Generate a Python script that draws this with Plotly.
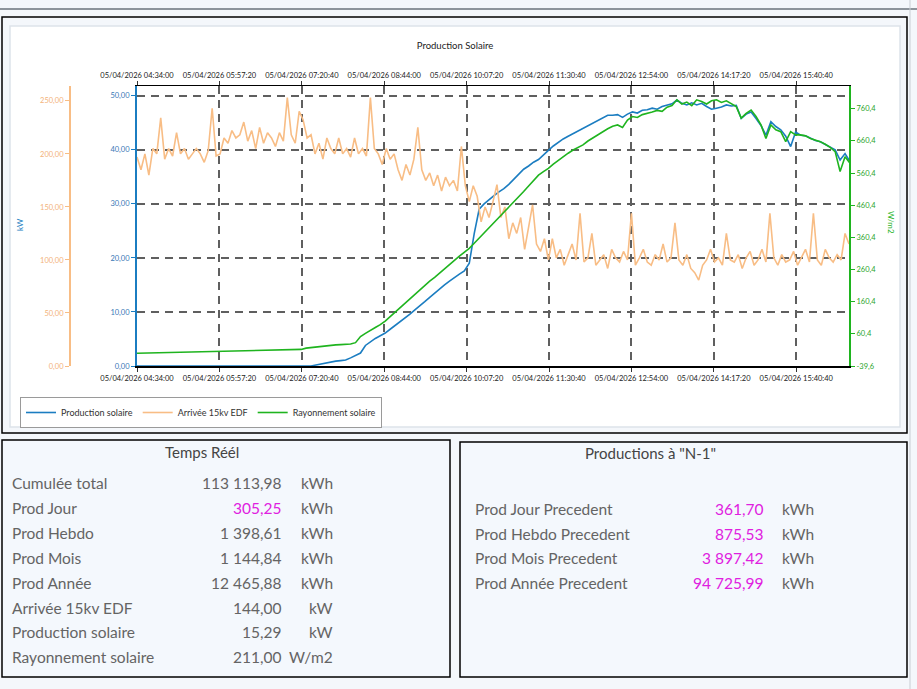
import pandas as pd
import plotly.graph_objects as go

DAY = "2026-04-05"

# Arrivée 15kv EDF (kW), one reading every 4 minutes from 04:34
edf_kw = [
    197, 185, 200, 180, 205, 200, 234, 195, 205, 198, 220, 200, 205, 195, 200, 205, 200, 192, 203, 243, 198, 200,
    215, 210, 222, 215, 218, 230, 212, 222, 205, 225, 210, 220, 215, 207, 220, 212, 253, 218, 210, 240,
    232, 215, 218, 200, 210, 195, 215, 205, 200, 215, 200, 205, 197, 215, 200, 205, 198, 253, 205, 200, 190,
    205, 195, 200, 185, 175, 190, 180, 195, 225, 185, 175, 182, 170, 180, 165, 178, 170, 175, 165, 207, 170,
    155, 170, 160, 136, 150, 140, 155, 171, 140, 150, 120, 135, 125, 140, 110, 130, 152, 115, 108, 120, 100,
    120, 102, 110, 95, 105, 115, 100, 144, 98, 102, 125, 95, 100, 105, 92, 110, 102, 98, 108, 100,
    144, 95, 102, 110, 98, 95, 105, 100, 115, 98, 102, 135, 100, 95, 105, 92, 88, 81, 95, 100,
    110, 98, 102, 95, 125, 100, 98, 105, 92, 102, 108, 95, 100, 110, 98, 144, 102, 95, 105, 98,
    100, 108, 95, 102, 110, 98, 144, 100, 95, 110, 102, 98, 105, 100, 125, 115,
]

# Production solaire (kW) and Rayonnement solaire (W/m2):
# one reading at 04:34, nothing until 07:20, then every 5 minutes
prod_kw = [0] + [
    0, 0, 0,
    0.2, 0.4, 0.6, 0.8, 0.9, 1.0, 1.1, 1.5, 2.0, 2.4,
    3.8, 4.5, 5.1, 5.6, 6.1, 6.8, 7.5, 8.1, 8.9, 9.6,
    10.4, 11.1, 11.9, 12.7, 13.5, 14.3, 15.0, 15.7, 16.4, 17.0,
    17.6, 19.0, 24.5, 29.0, 30.0, 30.8, 31.5, 32.2, 32.8, 33.6,
    34.6, 35.5, 36.4, 37.0, 37.7, 38.2, 39.1, 39.9, 40.7, 41.4,
    42.0, 42.5, 43.0, 43.4, 43.9, 44.4, 44.9, 45.4, 45.9, 46.4,
    46.4, 46.5, 46.0, 46.6, 47.0, 46.8, 47.3, 47.4, 47.7, 47.5,
    48.0, 48.2, 48.5, 49.2, 48.6, 48.3, 48.7, 48.3, 48.6, 48.0,
    47.5, 47.7, 47.9, 48.3, 48.1, 48.2, 45.8, 46.6, 47.0, 45.8,
    44.5, 42.7, 45.2, 44.3, 43.7, 42.5, 40.6, 43.3, 42.7, 42.6,
    42.1, 41.7, 41.5, 41.0, 40.5, 40.0, 38.1, 39.3, 37.8,
]
irradiance = [0] + [
    12, 16, 18, 20, 22, 24, 25, 26, 27, 28,
    29, 33, 52, 62, 70, 80, 89, 100, 114, 128,
    142, 156, 170, 184, 197, 210, 224, 236, 250, 262,
    276, 289, 302, 314, 326, 342, 358, 374, 390, 406,
    421, 436, 453, 470, 487, 503, 520, 537, 554, 565,
    575, 588, 600, 612, 622, 632, 640, 648, 660, 670,
    680, 690, 698, 706, 710, 702, 725, 736, 733, 742,
    745, 750, 755, 752, 765, 770, 788, 775, 781, 770,
    788, 783, 775, 785, 788, 780, 785, 777, 767, 731,
    746, 756, 736, 710, 668, 710, 695, 689, 658, 689,
    679, 679, 676, 668, 663, 658, 650, 640, 627, 565,
    611, 591,
]

x_ticks = ["04:34:00", "05:57:20", "07:20:40", "08:44:00", "10:07:20",
           "11:30:40", "12:54:00", "14:17:20", "15:40:40"]
kw_ticks = [0, 10, 20, 30, 40, 50]
edf_ticks = [0, 50, 100, 150, 200, 250]
wm2_ticks = [-39.6, 60.4, 160.4, 260.4, 360.4, 460.4, 560.4, 660.4, 760.4]

realtime_labels = ["Cumulée total", "Prod Jour", "Prod Hebdo", "Prod Mois", "Prod Année",
                   "Arrivée 15kv EDF", "Production solaire", "Rayonnement solaire"]
realtime_values = [113113.98, 305.25, 1398.61, 1144.84, 12465.88, 144.00, 15.29, 211.00]
realtime_units = ["kWh", "kWh", "kWh", "kWh", "kWh", "kW", "kW", "W/m2"]

previous_labels = ["Prod Jour Precedent", "Prod Hebdo Precedent", "Prod Mois Precedent", "Prod Année Precedent"]
previous_values = [361.70, 875.53, 3897.42, 94725.99]
previous_units = ["kWh", "kWh", "kWh", "kWh"]

BLUE = "#1b7dc1"
ORANGE = "#f8bd85"
GREEN = "#1fb41f"
MAGENTA = "#e020e0"
TEXT = "#646464"
W, H = 917, 689


def fr(v, dec=2):
    # french style numbers: 1 398,61
    return f"{v:,.{dec}f}".replace(",", " ").replace(".", ",")


def px(x):
    return x / W


def py(y):
    return 1 - y / H


edf_times = pd.date_range(f"{DAY} 04:34", periods=len(edf_kw), freq="4min")
pv_times = [pd.Timestamp(f"{DAY} 04:34")] + list(
    pd.date_range(f"{DAY} 07:20", periods=len(prod_kw) - 1, freq="5min"))
tick_vals = [f"{DAY} {t}" for t in x_ticks]
x_range = [f"{DAY} 04:34:00", f"{DAY} 16:34:00"]

fig = go.Figure()
fig.add_trace(go.Scatter(x=edf_times, y=edf_kw, name="Arrivée 15kv EDF", yaxis="y2",
                         mode="lines", line=dict(color=ORANGE, width=1.6), legendrank=2))
fig.add_trace(go.Scatter(x=pv_times, y=prod_kw, name="Production solaire",
                         mode="lines", line=dict(color=BLUE, width=1.6), legendrank=1))
fig.add_trace(go.Scatter(x=pv_times, y=irradiance, name="Rayonnement solaire", yaxis="y3",
                         mode="lines", line=dict(color=GREEN, width=1.6), legendrank=3))
# empty trace so the top time axis gets drawn
fig.add_trace(go.Scatter(x=[x_range[0]], y=[None], xaxis="x2", showlegend=False, hoverinfo="skip"))

tick_font = dict(family="Lato", size=7.5, color="#222")
dom_x = [px(137), px(849)]
dom_y = [py(366), py(86)]

fig.update_layout(
    width=W, height=H,
    margin=dict(l=0, r=0, t=0, b=0, autoexpand=False),
    paper_bgcolor="#f4f7fb",
    plot_bgcolor="white",
    font=dict(family="Lato", color="#333"),
    title=dict(text="Production Solaire", x=px(455), y=py(46), xanchor="center", yanchor="middle",
               font=dict(family="Lato", size=9.5, color="#222")),
    xaxis=dict(type="date", domain=dom_x, anchor="y", range=x_range,
               tickvals=tick_vals, tickformat="%d/%m/%Y %H:%M:%S", tickfont=tick_font,
               showline=True, linecolor="black", linewidth=1.5,
               ticks="outside", ticklen=4, tickcolor="#333",
               showgrid=True, gridcolor="#5f5f5f", gridwidth=1.5, griddash="8px,6px"),
    xaxis2=dict(type="date", overlaying="x", side="top", anchor="y", range=x_range,
                tickvals=tick_vals, tickformat="%d/%m/%Y %H:%M:%S", tickfont=tick_font,
                showline=True, linecolor="black", linewidth=1.2,
                ticks="outside", ticklen=4, tickcolor="#333", showgrid=False),
    yaxis=dict(domain=dom_y, range=[0, 51.8], tickvals=kw_ticks,
               ticktext=[fr(v) for v in kw_ticks],
               tickfont=dict(family="Lato", size=7.5, color="#3a78b5"),
               showline=True, linecolor=BLUE, linewidth=2,
               ticks="outside", ticklen=4, tickcolor=BLUE,
               showgrid=True, gridcolor="#5f5f5f", gridwidth=1.5, griddash="8px,6px",
               zeroline=False),
    yaxis2=dict(overlaying="y", anchor="free", position=px(70), side="left",
                range=[0, 264], tickvals=edf_ticks, ticktext=[fr(v) for v in edf_ticks],
                tickfont=dict(family="Lato", size=7.5, color="#f3b27a"),
                showline=True, linecolor=ORANGE, linewidth=2,
                ticks="outside", ticklen=4, tickcolor=ORANGE, showgrid=False, zeroline=False),
    yaxis3=dict(overlaying="y", anchor="x", side="right",
                range=[-39.6, 831], tickvals=wm2_ticks, ticktext=[fr(v, 1) for v in wm2_ticks],
                tickfont=dict(family="Lato", size=7.5, color="#2aa52a"),
                showline=True, linecolor=GREEN, linewidth=2,
                ticks="outside", ticklen=4, tickcolor=GREEN, showgrid=False, zeroline=False),
    legend=dict(orientation="h", x=px(20), y=py(397), xanchor="left", yanchor="top",
                bgcolor="white", bordercolor="#9a9a9a", borderwidth=1,
                font=dict(family="Lato", size=9, color="#333"), itemwidth=30,
                tracegroupgap=0),
    showlegend=True,
)

# dashboard frames
shapes = [
    dict(type="line", x0=0, x1=1, y0=py(9), y1=py(9), line=dict(color="#8d949b", width=2)),
    dict(type="line", x0=px(910), x1=px(910), y0=0, y1=1, line=dict(color="#c8cdd3", width=1)),
    dict(type="rect", x0=px(2), x1=px(907), y0=py(433), y1=py(17),
         line=dict(color="black", width=1.5), fillcolor="#f4f7fb"),
    dict(type="rect", x0=px(10), x1=px(900), y0=py(427), y1=py(26),
         line=dict(color="#dde3ea", width=1.5), fillcolor="white"),
    dict(type="rect", x0=px(2), x1=px(450), y0=py(677), y1=py(440),
         line=dict(color="black", width=1.5), fillcolor="#f4f8fd"),
    dict(type="rect", x0=px(460), x1=px(907), y0=py(677), y1=py(442),
         line=dict(color="black", width=1.5), fillcolor="#f4f8fd"),
]
for s in shapes:
    s.update(xref="paper", yref="paper", layer="below")
fig.update_layout(shapes=shapes)

panel_font = dict(family="Lato", size=15.5, color=TEXT)
notes = [
    dict(text="kW", x=px(20), y=py(225), textangle=-90,
         font=dict(family="Lato", size=8, color=BLUE)),
    dict(text="W/m2", x=px(891), y=py(222), textangle=90,
         font=dict(family="Lato", size=8, color=GREEN)),
    dict(text="Temps Réél", x=px(202), y=py(452), font=dict(family="Lato", size=15, color="#444")),
    dict(text="Productions à \"N-1\"", x=px(650), y=py(453), font=dict(family="Lato", size=15, color="#444")),
]
for k, (lab, val, unit) in enumerate(zip(realtime_labels, realtime_values, realtime_units)):
    y = py(483 + 24.9 * k)
    colour = MAGENTA if lab == "Prod Jour" else TEXT
    notes.append(dict(text=lab, x=px(10), y=y, xanchor="left", font=panel_font))
    notes.append(dict(text=fr(val), x=px(283), y=y, xanchor="right", font=dict(panel_font, color=colour)))
    notes.append(dict(text=unit, x=px(335), y=y, xanchor="right", font=panel_font))
for k, (lab, val, unit) in enumerate(zip(previous_labels, previous_values, previous_units)):
    y = py(509 + 24.7 * k)
    notes.append(dict(text=lab, x=px(473), y=y, xanchor="left", font=panel_font))
    notes.append(dict(text=fr(val), x=px(765), y=y, xanchor="right", font=dict(panel_font, color=MAGENTA)))
    notes.append(dict(text=unit, x=px(816), y=y, xanchor="right", font=panel_font))
for n in notes:
    n.setdefault("xanchor", "center")
    n.update(xref="paper", yref="paper", yanchor="middle", showarrow=False)
fig.update_layout(annotations=notes)

fig.write_html("out.html", config={"displayModeBar": False},
               post_script="document.body.style.margin='0';document.body.style.overflow='hidden';")
